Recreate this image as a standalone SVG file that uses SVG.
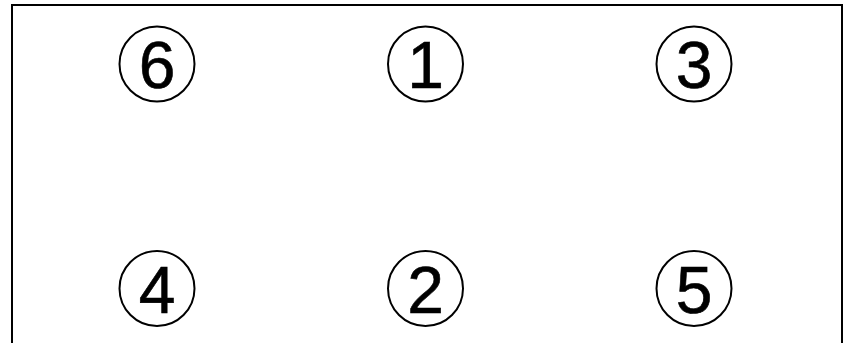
<svg xmlns="http://www.w3.org/2000/svg" width="848" height="343" viewBox="0 0 848 343">
<style>
.c{fill:none;stroke:#000;stroke-width:2}
.t{font-family:"Liberation Sans",Arial,sans-serif;font-size:66px;text-anchor:middle;fill:#000;stroke:#000;stroke-width:0.6}
.f{fill:none;stroke:#000;stroke-width:2}
</style>
<rect width="848" height="343" fill="#fff"/>
<path class="f" d="M12,350 V5 H842 V350"/>
<g id="n6"><circle class="c" cx="157" cy="64" r="37.5"/><text class="t" x="157" y="88">6</text></g>
<g id="n1"><circle class="c" cx="425.5" cy="64" r="37.5"/><text class="t" x="425.5" y="88">1</text></g>
<g id="n3"><circle class="c" cx="694" cy="64" r="37.5"/><text class="t" x="694" y="88">3</text></g>
<g id="n4"><circle class="c" cx="157" cy="288.5" r="37.5"/><text class="t" x="157" y="313">4</text></g>
<g id="n2"><circle class="c" cx="425.5" cy="288.5" r="37.5"/><text class="t" x="425.5" y="313">2</text></g>
<g id="n5"><circle class="c" cx="694" cy="288.5" r="37.5"/><text class="t" x="694" y="313">5</text></g>
<g id="connectors"></g>
</svg>
